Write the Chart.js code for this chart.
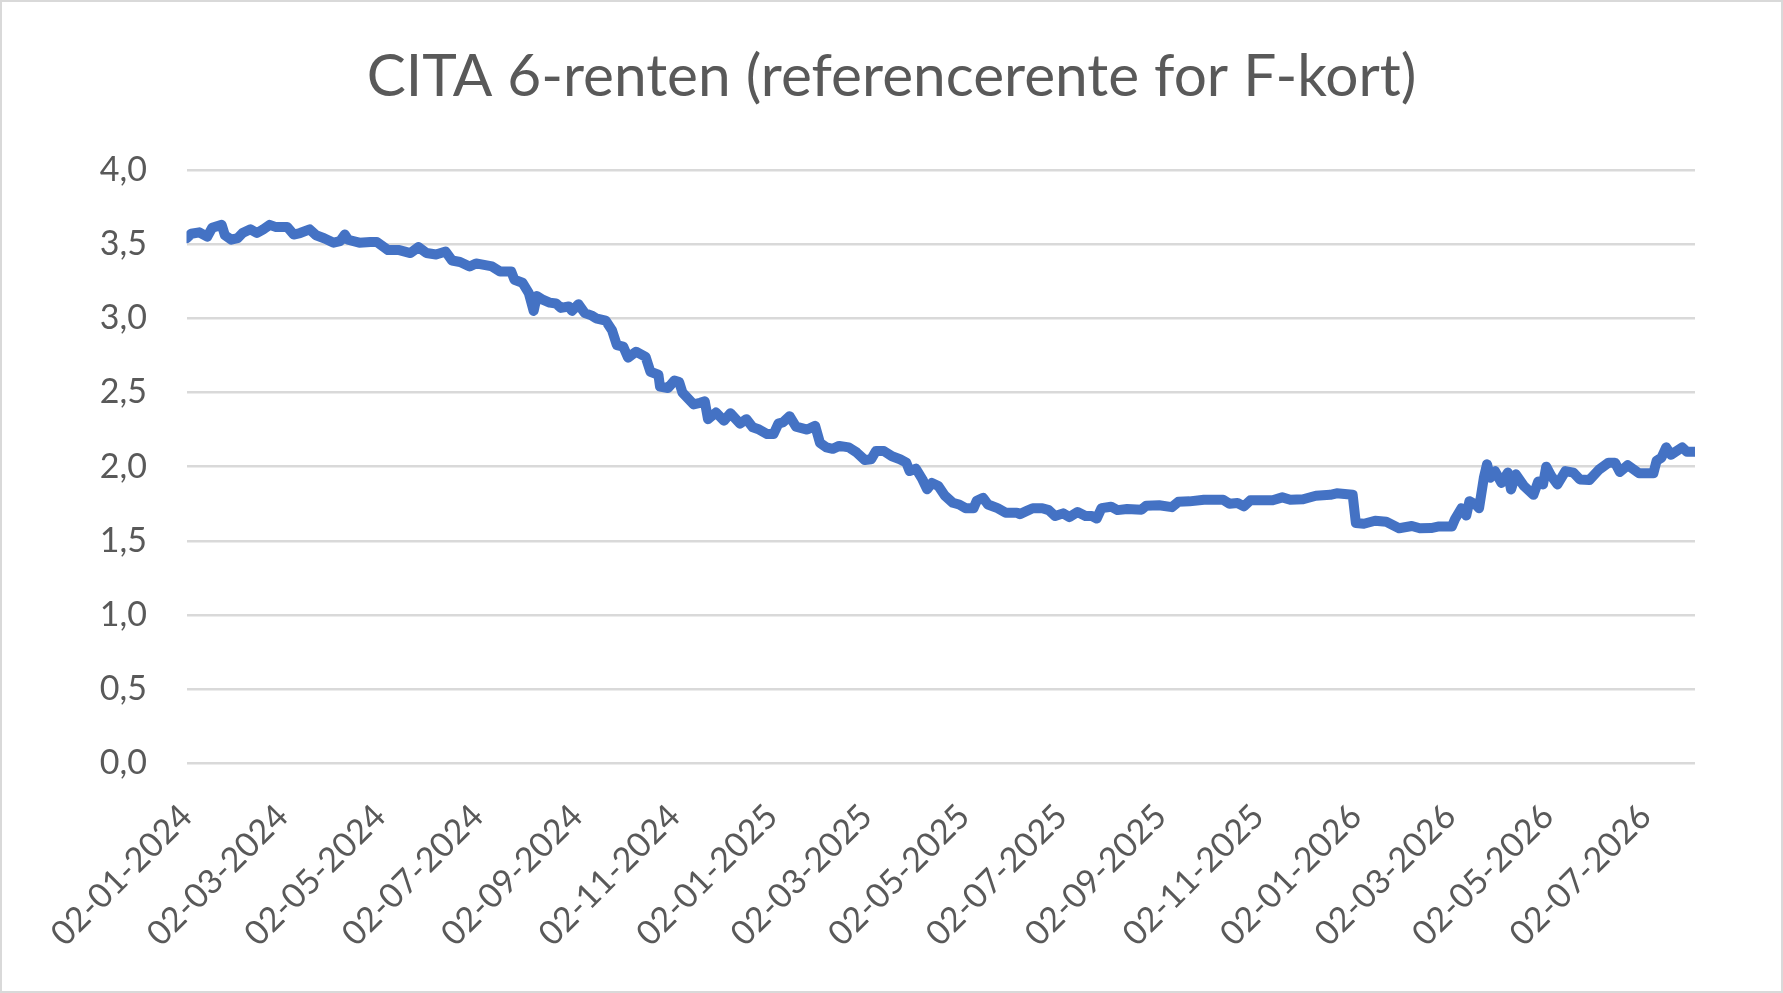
<!DOCTYPE html>
<html lang="da">
<head>
    <meta charset="UTF-8">
    <title>CITA 6-renten</title>
    <script src="https://cdn.jsdelivr.net/npm/chart.js"></script>
    <style>
        html, body { margin: 0; padding: 0; background: #fff; }
        #wrap { position: relative; width: 1783px; height: 993px; }
        #chart { display: block; }
        #frame { position: absolute; left: 0; top: 0; width: 1783px; height: 993px;
                 box-sizing: border-box; border: 2px solid #d9d9d9; pointer-events: none; }
    </style>
</head>
<body>
<div id="wrap">
    <canvas id="chart" width="1783" height="993"></canvas>
    <div id="frame"></div>
</div>
<script>
    var titleText = 'CITA 6-renten (referencerente for F-kort)';
    var startDate = '2024-01-02';
    var endDate = '2026-08-02';

    // dage efter 02-01-2024
    var dayIndex = [
        0, 3, 8, 13, 16, 22, 24, 28, 32, 35, 40, 44, 48, 52, 56, 63, 67, 71, 77, 81,
        86, 92, 96, 99, 101, 108, 115, 119, 126, 133, 140, 145, 150, 156, 162, 166, 171, 177, 181,
        191, 196, 203, 205, 210, 214, 217, 219, 223, 227, 231, 234, 239, 241, 245, 249, 253, 256,
        262, 266, 269, 273, 276, 281, 287, 290, 295, 296, 301, 305, 308, 310, 317, 321, 324, 326,
        331, 336, 340, 346, 350, 354, 358, 363, 367, 370, 373, 377, 381,
        388, 393, 396, 400, 404, 408, 414, 419, 424, 428, 431, 436, 441, 446, 450, 452, 456, 460,
        463, 466, 470, 474, 479, 483, 487, 492, 494, 498, 501, 507, 512, 519, 521, 525, 529, 535,
        539, 543, 548, 552, 557, 562, 566, 569, 572, 578, 582,
        588, 597, 600, 608, 616, 620, 627, 636, 648, 652, 657, 661, 665, 679, 685, 690, 698, 706,
        715, 719, 729, 731, 736, 743, 750, 758, 766, 771,
        778, 783, 791, 793, 797, 800, 802, 806, 808, 811, 813, 815, 818, 822, 826, 828, 831, 836,
        842, 845, 848, 850, 853, 857, 862, 867, 871, 877, 883, 889, 893, 896, 901, 908, 917, 919,
        922, 925, 928, 935, 938, 943
    ];
    var rate = [
        3.54, 3.57, 3.58, 3.55, 3.61, 3.63, 3.56, 3.53, 3.54, 3.575, 3.60, 3.575, 3.60, 3.63, 3.615, 3.615, 3.565, 3.575, 3.60, 3.56,
        3.54, 3.51, 3.52, 3.565, 3.53, 3.51, 3.515, 3.515, 3.46, 3.46, 3.44, 3.48, 3.44, 3.43, 3.45, 3.39, 3.38, 3.35, 3.37,
        3.35, 3.316, 3.316, 3.26, 3.24, 3.17, 3.05, 3.15, 3.124, 3.106, 3.10, 3.07, 3.08, 3.05, 3.095, 3.035, 3.02, 3.00,
        2.985, 2.92, 2.82, 2.81, 2.735, 2.775, 2.74, 2.64, 2.62, 2.54, 2.53, 2.58, 2.57, 2.50, 2.42, 2.43, 2.44, 2.32,
        2.365, 2.31, 2.36, 2.29, 2.32, 2.265, 2.25, 2.22, 2.22, 2.29, 2.30, 2.34, 2.27,
        2.25, 2.275, 2.16, 2.13, 2.12, 2.14, 2.13, 2.095, 2.045, 2.05, 2.105, 2.105, 2.07, 2.05, 2.027, 1.97, 1.986, 1.915,
        1.847, 1.89, 1.87, 1.806, 1.757, 1.745, 1.72, 1.72, 1.77, 1.79, 1.745, 1.72, 1.69, 1.69, 1.68, 1.70, 1.72, 1.72,
        1.707, 1.667, 1.685, 1.66, 1.694, 1.667, 1.667, 1.65, 1.72, 1.73, 1.707,
        1.714, 1.71, 1.737, 1.74, 1.727, 1.763, 1.766, 1.777, 1.777, 1.75, 1.755, 1.732, 1.773, 1.773, 1.793, 1.777, 1.78, 1.804,
        1.81, 1.82, 1.81, 1.62, 1.615, 1.635, 1.628, 1.585, 1.60, 1.585,
        1.586, 1.597, 1.597, 1.647, 1.72, 1.67, 1.767, 1.744, 1.72, 1.925, 2.016, 1.925, 1.97, 1.89, 1.96, 1.846, 1.948, 1.87,
        1.81, 1.90, 1.88, 2.0, 1.94, 1.88, 1.97, 1.96, 1.914, 1.91, 1.98, 2.027, 2.027, 1.964, 2.01, 1.955, 1.955, 2.04,
        2.06, 2.13, 2.08, 2.13, 2.10, 2.10
    ];

    var xTickDates = ['2024-01-02', '2024-03-02', '2024-05-02', '2024-07-02', '2024-09-02', '2024-11-02',
                      '2025-01-02', '2025-03-02', '2025-05-02', '2025-07-02', '2025-09-02', '2025-11-02',
                      '2026-01-02', '2026-03-02', '2026-05-02', '2026-07-02'];
    var xTickLabels = ['02-01-2024', '02-03-2024', '02-05-2024', '02-07-2024', '02-09-2024', '02-11-2024',
                       '02-01-2025', '02-03-2025', '02-05-2025', '02-07-2025', '02-09-2025', '02-11-2025',
                       '02-01-2026', '02-03-2026', '02-05-2026', '02-07-2026'];
    var yTicks = [0, 0.5, 1, 1.5, 2, 2.5, 3, 3.5, 4];
    var yTickLabels = ['0,0', '0,5', '1,0', '1,5', '2,0', '2,5', '3,0', '3,5', '4,0'];

    function daysFrom(s) {
        return Math.round((Date.parse(s) - Date.parse(startDate)) / 86400000);
    }

    var textGray = '#595959';
    var fontFamily = 'Lato, "Open Sans", sans-serif';

    // plot area in the picture
    var plotLeft = 186.5, plotRight = 1695, plotTop = 170, plotBottom = 763.3;
    var titleMid = 77;

    function fitSize(text, target) {
        var c = document.createElement('canvas').getContext('2d');
        c.font = '100px ' + fontFamily;
        return 100 * target / c.measureText(text).width;
    }
    var titleSize = fitSize(titleText, 1050);
    var tickSize = fitSize('02-03-2024', 183);

    var points = dayIndex.map(function(d, i) { return { x: d, y: rate[i] }; });

    new Chart(document.getElementById('chart').getContext('2d'), {
        type: 'line',
        data: {
            datasets: [{
                label: 'CITA 6',
                data: points,
                borderColor: '#4472C4',
                borderWidth: 10,
                pointRadius: 0,
                tension: 0,
                borderJoinStyle: 'round',
                borderCapStyle: 'round'
            }]
        },
        options: {
            responsive: false,
            animation: false,
            devicePixelRatio: 1,
            layout: { padding: 0 },
            plugins: {
                legend: { display: false },
                tooltip: { enabled: false },
                title: {
                    display: true,
                    text: titleText,
                    color: textGray,
                    font: { family: fontFamily, size: titleSize, weight: 'normal', lineHeight: 1.2 },
                    padding: { top: titleMid - 0.6 * titleSize, bottom: plotTop - titleMid - 0.6 * titleSize }
                }
            },
            scales: {
                x: {
                    type: 'linear',
                    min: 0,
                    max: daysFrom(endDate),
                    afterBuildTicks: function(s) {
                        s.ticks = xTickDates.map(function(d) { return { value: daysFrom(d) }; });
                    },
                    afterFit: function(s) { s.height = 993 - plotBottom; },
                    grid: { display: false, drawTicks: false },
                    border: { display: false },
                    ticks: {
                        autoSkip: false,
                        minRotation: 45,
                        maxRotation: 45,
                        padding: 33,
                        color: textGray,
                        font: { family: fontFamily, size: tickSize },
                        callback: function(v, i) { return xTickLabels[i]; }
                    }
                },
                y: {
                    min: 0,
                    max: 4,
                    afterBuildTicks: function(s) {
                        s.ticks = yTicks.map(function(v) { return { value: v }; });
                    },
                    afterFit: function(s) { s.width = plotLeft; },
                    grid: { color: '#d9d9d9', lineWidth: 2.5, drawTicks: false },
                    border: { display: false },
                    ticks: {
                        padding: 39.5,
                        color: textGray,
                        font: { family: fontFamily, size: tickSize },
                        callback: function(v, i) { return yTickLabels[i]; }
                    }
                },
                // empty right margin so the title stays centred on the whole picture
                margin: {
                    position: 'right',
                    afterFit: function(s) { s.width = 1783 - plotRight; },
                    grid: { display: false, drawTicks: false },
                    border: { display: false },
                    ticks: { display: false }
                }
            }
        }
    });
</script>
</body>
</html>
